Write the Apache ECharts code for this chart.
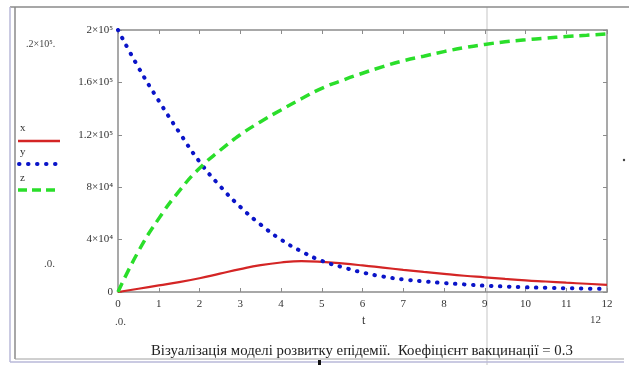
<!DOCTYPE html>
<html>
<head>
    <meta charset="UTF-8">
    <script src="https://cdn.jsdelivr.net/npm/echarts@6/dist/echarts.min.js"></script>
    <style>
        html, body { margin: 0; padding: 0; background: #fff; }
        #chart { width: 629px; height: 365px; }
    </style>
</head>
<body>
<div id="chart"></div>
<script>
    // time points
    var tValues = [0, 0.5, 1, 1.5, 2, 2.5, 3, 3.5, 4, 4.5, 5, 5.5, 6, 6.5, 7, 7.5, 8, 8.5, 9, 9.5, 10, 10.5, 11, 11.5, 12];
    // x - infected
    var xValues = [0, 2500, 5000, 7500, 10500, 14000, 17500, 20500, 22500, 23500, 23000, 21800, 20300, 18600, 16900, 15300, 13800, 12400, 11200, 10000, 8900, 8000, 7100, 6300, 5500];
    // y - susceptible
    var yValues = [200000, 171500, 146000, 122000, 99500, 81000, 65000, 51500, 40000, 31000, 23800, 19000, 14900, 11800, 9600, 8100, 6800, 5800, 4800, 4200, 3600, 3200, 2900, 2600, 2300];
    // z - recovered
    var zValues = [0, 31000, 56000, 77000, 94500, 108000, 120000, 130000, 139000, 147500, 155500, 161500, 167000, 172000, 176500, 180000, 183500, 186500, 189000, 191000, 192500, 193800, 195000, 196000, 197000];
    var yTickLabels = ['0', '4×10⁴', '8×10⁴', '1.2×10⁵', '1.6×10⁵', '2×10⁵'];
    var xTickLabels = ['0', '1', '2', '3', '4', '5', '6', '7', '8', '9', '10', '11', '12'];

    function pairs(vals) {
        return tValues.map(function (t, i) { return [t, vals[i]]; });
    }

    var serif = '"Liberation Serif", "DejaVu Serif", serif';
    var axisGray = '#8c8c8c';

    var chart = echarts.init(document.getElementById('chart'));
    chart.setOption({
        animation: false,
        grid: { left: 118, right: 22, top: 30, bottom: 73 },
        xAxis: [{
            type: 'value', min: 0, max: 12, interval: 1,
            axisLine: { onZero: false, lineStyle: { color: axisGray, width: 1.5 } },
            axisTick: { inside: true, length: 4, lineStyle: { color: axisGray } },
            splitLine: { show: false },
            axisLabel: {
                margin: 7, color: '#333', fontFamily: serif, fontSize: 11,
                formatter: function (v) { return xTickLabels[Math.round(v)]; }
            }
        }, {
            type: 'value', position: 'top', min: 0, max: 12, interval: 1,
            axisLine: { show: true, onZero: false, lineStyle: { color: axisGray, width: 1.5 } },
            axisTick: { show: true, inside: true, length: 4, lineStyle: { color: axisGray } },
            axisLabel: { show: false }, splitLine: { show: false }
        }],
        yAxis: [{
            type: 'value', min: 0, max: 200000, interval: 40000,
            axisLine: { show: true, onZero: false, lineStyle: { color: axisGray, width: 1.5 } },
            axisTick: { show: true, inside: true, length: 4, lineStyle: { color: axisGray } },
            splitLine: { show: false },
            axisLabel: {
                margin: 5, color: '#333', fontFamily: serif, fontSize: 11,
                formatter: function (v) { return yTickLabels[Math.round(v / 40000)]; }
            }
        }, {
            type: 'value', position: 'right', min: 0, max: 200000, interval: 40000,
            axisLine: { show: true, onZero: false, lineStyle: { color: axisGray, width: 1.5 } },
            axisTick: { show: true, inside: true, length: 4, lineStyle: { color: axisGray } },
            axisLabel: { show: false }, splitLine: { show: false }
        }],
        series: [{
            name: 'x', type: 'line', smooth: true, showSymbol: false,
            data: pairs(xValues),
            lineStyle: { color: '#d42525', width: 2.2 }
        }, {
            name: 'y', type: 'line', smooth: true, showSymbol: false,
            data: pairs(yValues),
            lineStyle: { color: '#0a14c8', width: 4, type: [0.5, 8.5], cap: 'round' }
        }, {
            name: 'z', type: 'line', smooth: true, showSymbol: false,
            data: pairs(zValues),
            lineStyle: { color: '#2ade2a', width: 3.5, type: [10, 6] }
        }],
        graphic: [
            // outer frame
            { type: 'line', shape: { x1: 10, y1: 7, x2: 629, y2: 7 }, style: { stroke: '#8a8a8a', lineWidth: 1.5 } },
            { type: 'line', shape: { x1: 10, y1: 7, x2: 10, y2: 362 }, style: { stroke: '#b8b8d8', lineWidth: 1.5 } },
            { type: 'line', shape: { x1: 15, y1: 7, x2: 15, y2: 359 }, style: { stroke: '#8a8a8a', lineWidth: 1.5 } },
            { type: 'line', shape: { x1: 15, y1: 359, x2: 624, y2: 359 }, style: { stroke: '#a0a0a0', lineWidth: 1 } },
            { type: 'line', shape: { x1: 10, y1: 362, x2: 624, y2: 362 }, style: { stroke: '#b8b8d8', lineWidth: 1.5 } },
            // cursor line
            { type: 'line', z: -1, shape: { x1: 487, y1: 7, x2: 487, y2: 365 }, style: { stroke: '#cfcfcf', lineWidth: 1.2 } },
            { type: 'rect', shape: { x: 318, y: 360, width: 3, height: 5 }, style: { fill: '#111' } },
            { type: 'circle', shape: { cx: 624, cy: 160, r: 1.2 }, style: { fill: '#444' } },
            // legend
            { type: 'text', style: { x: 20, y: 123, text: 'x', font: '11px ' + serif, fill: '#333' } },
            { type: 'line', shape: { x1: 18, y1: 141, x2: 60, y2: 141 }, style: { stroke: '#d42525', lineWidth: 2.5 } },
            { type: 'text', style: { x: 20, y: 147, text: 'y', font: '11px ' + serif, fill: '#333' } },
            { type: 'line', shape: { x1: 19, y1: 164, x2: 60, y2: 164 }, style: { stroke: '#0a14c8', lineWidth: 4, lineDash: [0.5, 8.5], lineCap: 'round' } },
            { type: 'text', style: { x: 20, y: 173, text: 'z', font: '11px ' + serif, fill: '#333' } },
            { type: 'line', shape: { x1: 18, y1: 190, x2: 60, y2: 190 }, style: { stroke: '#2ade2a', lineWidth: 3.5, lineDash: [9, 5] } },
            // range markers
            { type: 'text', style: { x: 26, y: 39, text: '.2×10⁵.', font: '10px ' + serif, fill: '#444' } },
            { type: 'text', style: { x: 44, y: 259, text: '.0.', font: '11px ' + serif, fill: '#444' } },
            { type: 'text', style: { x: 115, y: 317, text: '.0.', font: '11px ' + serif, fill: '#444' } },
            { type: 'text', style: { x: 590, y: 315, text: '12', font: '11px ' + serif, fill: '#444' } },
            { type: 'text', style: { x: 362, y: 315, text: 't', font: '12px ' + serif, fill: '#333' } },
            // caption
            { type: 'text', style: { x: 151, y: 344, text: 'Візуалізація моделі розвитку епідемії.  Коефіцієнт вакцинації = 0.3', font: '14.8px ' + serif, fill: '#222' } }
        ]
    });
</script>
</body>
</html>
